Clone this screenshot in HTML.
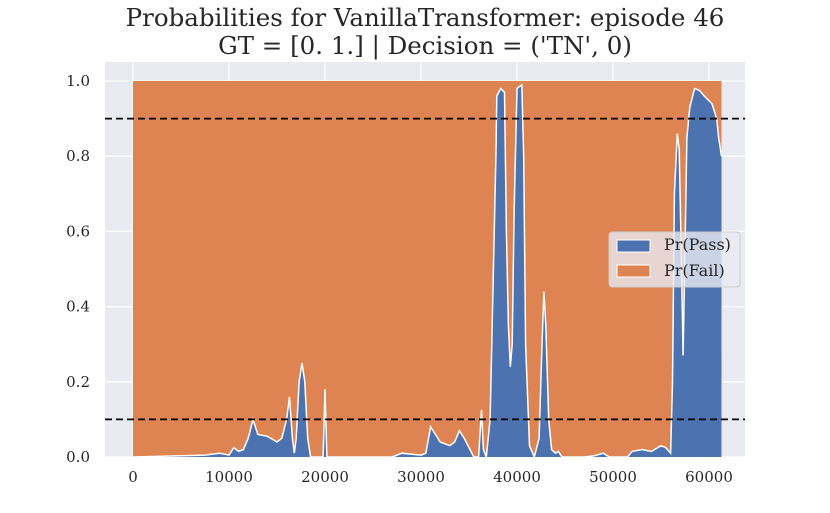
<!DOCTYPE html>
<html><head><meta charset="utf-8"><style>
body{margin:0;background:#fff}
svg{display:block;font-family:"DejaVu Serif","Liberation Serif",serif}
</style></head><body>
<svg width="830" height="513" id="chart">
<text x="425" y="26" text-anchor="middle" font-size="24.5" fill="#262626">Probabilities for VanillaTransformer: episode 46</text>
<text x="425" y="54" text-anchor="middle" font-size="24.5" fill="#262626">GT = [0. 1.] | Decision = ('TN', 0)</text>
<rect x="105" y="62" width="640" height="395" fill="#eaeaf2"/>
<g id="grid"></g><g id="series"></g><g id="ticks"></g>
<g>
<rect x="609" y="232" width="131" height="55" rx="3" fill="#eaeaf2" fill-opacity="0.8" stroke="#ccc"/>
<rect x="617" y="240" width="33" height="12" fill="#4c72b0" stroke="#fff"/>
<text x="664" y="250" font-size="16" fill="#262626">Pr(Pass)</text>
<rect x="617" y="265" width="33" height="12" fill="#dd8452" stroke="#fff"/>
<text x="664" y="276" font-size="16" fill="#262626">Pr(Fail)</text>
</g>
</svg>
<script>
const steps=[0,7500,9000,10000,10500,11000,11500,12000,12500,13000,14000,15000,15500,16000,16300,16600,16800,17000,17300,17600,17900,18200,18500,19800,20000,20200,27000,28000,30000,30500,31000,31500,32000,33000,33500,34000,34500,35500,36000,36300,36500,36800,37200,37500,37800,37900,38300,38700,38900,39100,39300,39500,39700,40000,40500,40700,40900,41300,41800,42300,42600,42800,43000,43300,43600,44000,44300,44700,47000,48000,49000,49600,51500,52000,53000,54000,55000,55500,56000,56200,56400,56700,56900,57100,57300,57500,57700,58000,58500,59000,59500,60300,60800,61000,61300];
const passProb=[0,0.005,0.01,0.005,0.025,0.015,0.02,0.05,0.1,0.06,0.055,0.04,0.05,0.1,0.16,0.05,0.01,0.05,0.2,0.25,0.2,0.05,0,0,0.18,0,0,0.01,0.005,0.01,0.08,0.06,0.04,0.03,0.04,0.07,0.05,0,0,0.125,0.02,0,0.1,0.45,0.8,0.96,0.98,0.97,0.6,0.35,0.24,0.3,0.65,0.98,0.99,0.8,0.3,0.03,0,0.05,0.3,0.44,0.35,0.1,0.02,0.01,0.015,0,0,0.003,0.01,0,0,0.015,0.02,0.015,0.03,0.025,0.01,0.2,0.7,0.86,0.82,0.55,0.27,0.55,0.85,0.93,0.98,0.975,0.96,0.94,0.9,0.85,0.8];
const xTicks=[0,10000,20000,30000,40000,50000,60000];
const yTicks=[0,0.2,0.4,0.6,0.8,1.0];
const thresholds=[0.9,0.1];
const NS='http://www.w3.org/2000/svg';
const X=v=>133+v*0.0096, Y=v=>457-v*376;
function mk(t,a,p){const e=document.createElementNS(NS,t);for(const k in a)e.setAttribute(k,a[k]);document.getElementById(p).appendChild(e);return e;}
xTicks.forEach(t=>{
 const g=mk('line',{x1:X(t),x2:X(t),y1:62,y2:457,stroke:'#fff','stroke-width':1.3},'grid');
 
 
 const l=mk('text',{x:X(t),y:482,'text-anchor':'middle','font-size':15,fill:'#262626'},'ticks');
 l.textContent=t;
 
 
});
yTicks.forEach(t=>{
 const g=mk('line',{x1:105,x2:745,y1:Y(t),y2:Y(t),stroke:'#fff','stroke-width':1.3},'grid');
 
 
 const l=mk('text',{x:90,y:Y(t)+5,'text-anchor':'end','font-size':15,fill:'#262626'},'ticks');
 l.textContent=t.toFixed(1);
 
 
});
const x0=X(steps[0]),x1=X(steps[steps.length-1]);
const fail=mk('rect',{x:x0,y:Y(1),width:x1-x0,height:Y(0)-Y(1),fill:'#dd8452'},'series');


let pts=steps.map((s,i)=>X(s).toFixed(1)+','+Y(passProb[i]).toFixed(1));
const pass=mk('polygon',{points:x0+','+Y(0)+' '+pts.join(' ')+' '+x1+','+Y(0),fill:'#4c72b0'},'series');


const edge=mk('polyline',{points:pts.join(' '),fill:'none',stroke:'#fff','stroke-width':1.5},'series');


thresholds.forEach(t=>{
 const d=mk('line',{x1:105,x2:745,y1:Y(t),y2:Y(t),stroke:'#000','stroke-width':1.8,'stroke-dasharray':'7,4'},'series');
 
 
});
</script>
</body></html>
